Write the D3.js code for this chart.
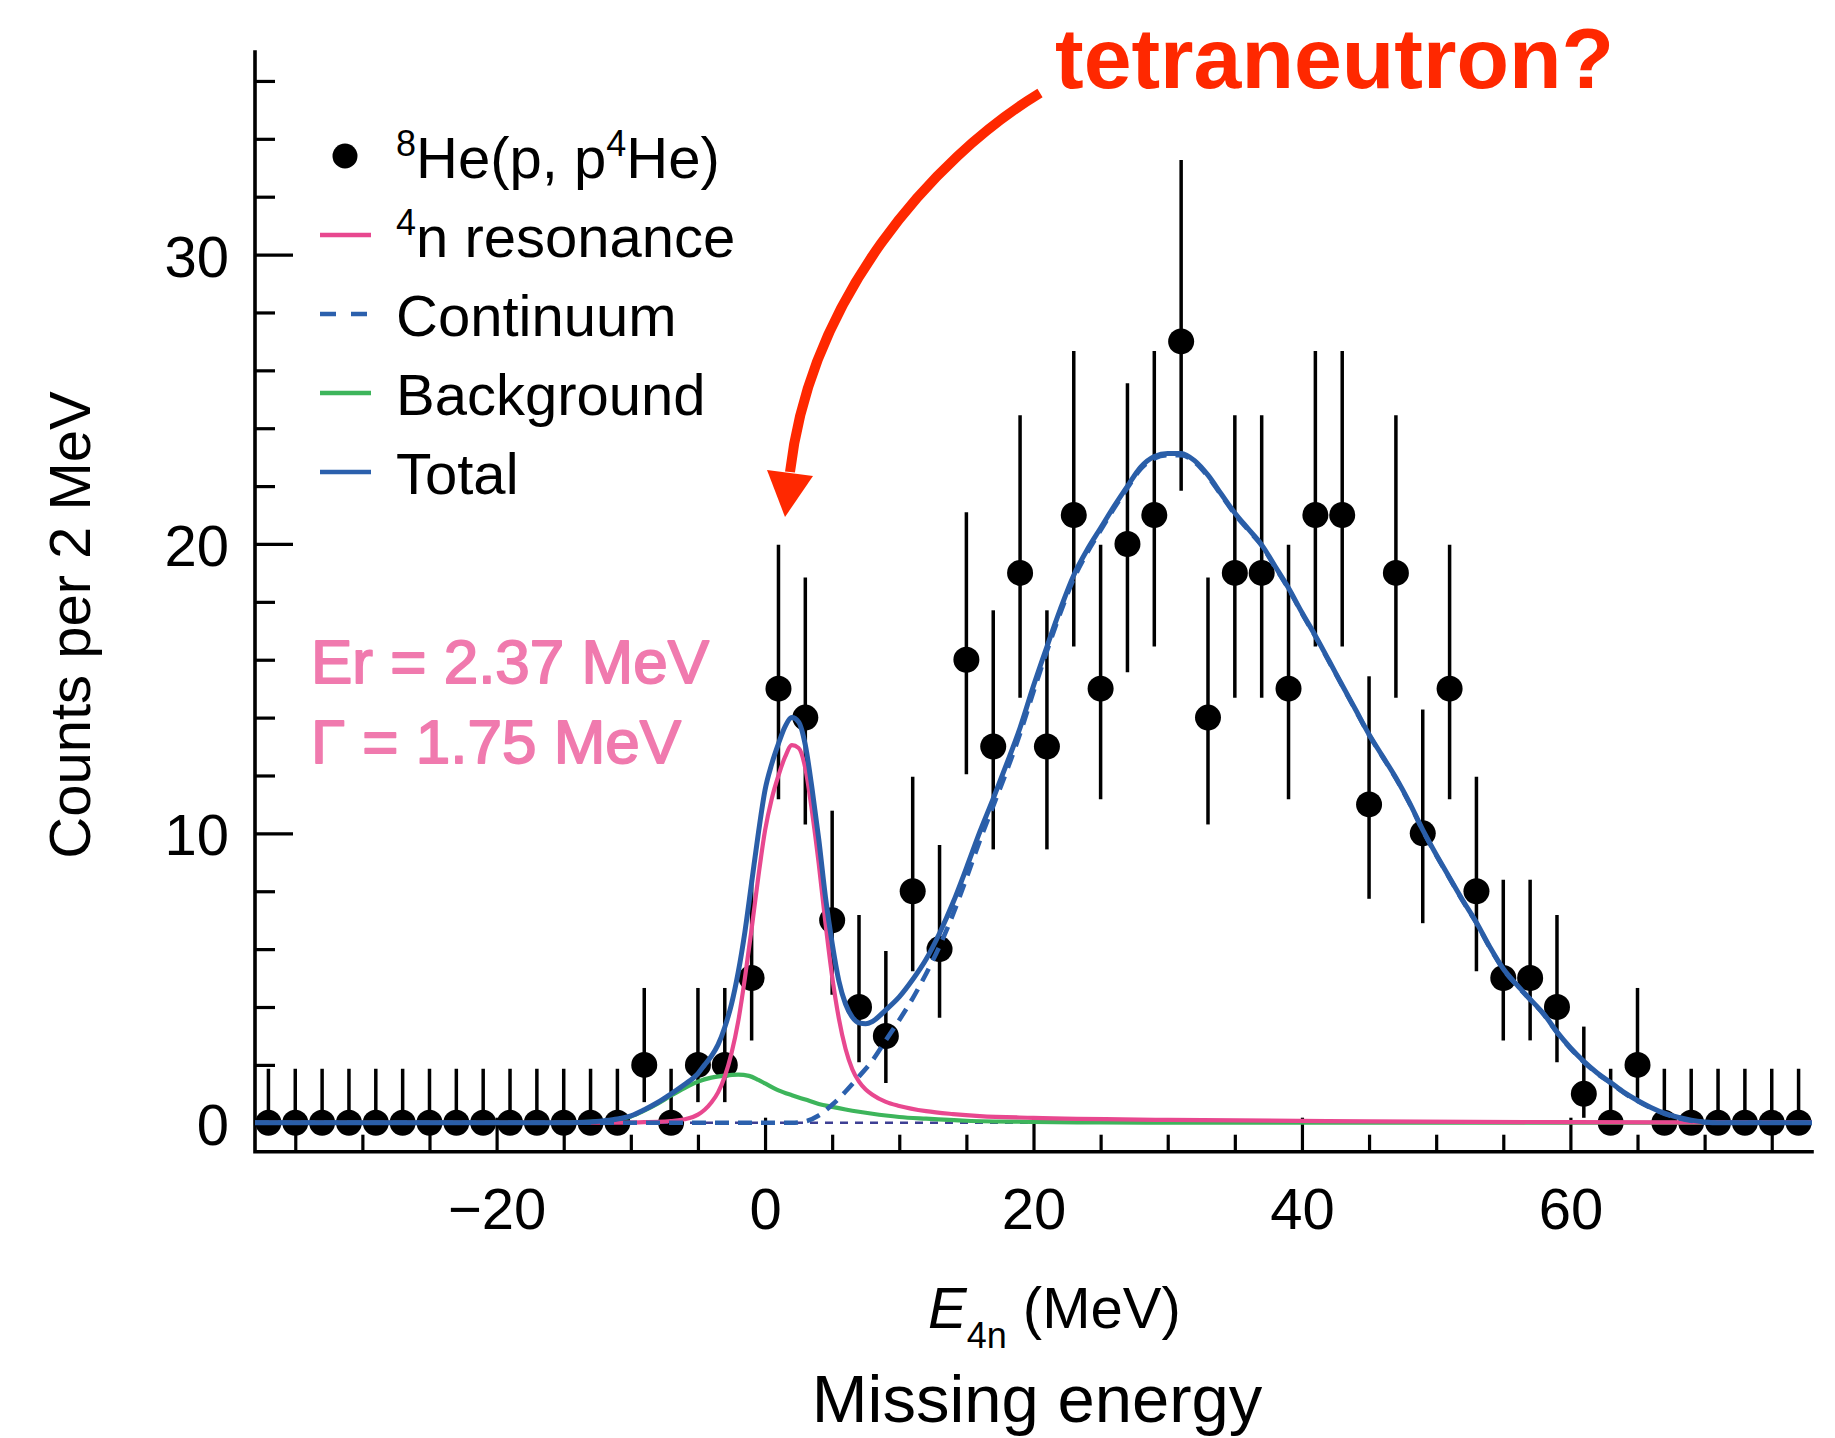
<!DOCTYPE html>
<html><head><meta charset="utf-8">
<script src="https://cdn.jsdelivr.net/npm/d3@7"></script>
<style>
body{margin:0;background:#fff;}
svg{display:block;font-family:"Liberation Sans",Arial,Helvetica,sans-serif;}
</style>
</head><body>
<svg id="chart" width="1835" height="1438"></svg>
<script>
// ---- data ----
const binCenters = [-37,-35,-33,-31,-29,-27,-25,-23,-21,-19,-17,-15,-13,-11,-9,-7,-5,-3,-1,1,3,5,7,9,11,13,15,17,19,21,23,25,27,29,31,33,35,37,39,41,43,45,47,49,51,53,55,57,59,61,63,65,67,69,71,73,75,77];
const counts     = [0,0,0,0,0,0,0,0,0,0,0,0,0,0,2,0,2,2,5,15,14,7,4,3,8,6,16,13,19,13,21,15,20,21,27,14,19,19,15,21,21,11,19,10,15,8,5,5,4,1,0,2,0,0,0,0,0,0];
const errHigh    = [1.866,1.866,1.866,1.866,1.866,1.866,1.866,1.866,1.866,1.866,1.866,1.866,1.866,1.866,4.658,1.866,4.658,4.658,8.398,19.969,18.841,10.784,7.179,5.936,11.958,9.598,21.093,17.708,24.444,17.708,26.664,19.969,25.555,26.664,33.268,18.841,24.444,24.444,19.969,26.664,26.664,15.428,24.444,14.279,19.969,11.958,8.398,8.398,7.179,3.323,1.866,4.658,1.866,1.866,1.866,1.866,1.866,1.866];
const errLow     = [0,0,0,0,0,0,0,0,0,0,0,0,0,0,0.712,0,0.712,0.712,2.846,11.175,10.308,4.424,2.091,1.373,5.236,3.625,12.046,9.446,14.683,9.446,16.458,11.175,15.569,16.458,21.839,10.308,14.683,14.683,11.175,16.458,16.458,7.739,14.683,6.896,11.175,5.236,2.846,2.846,2.091,0.172,0,0.712,0,0,0,0,0,0];

const resonanceCurve = [[-38,0],[-12,0],[-9,0.02],[-8,0.03],[-7,0.06],[-6,0.12],[-5,0.28],[-4.5,0.45],[-4,0.7],[-3.5,1.05],[-3,1.6],[-2.5,2.4],[-2,3.5],[-1.5,5.0],[-1,6.7],[-0.5,8.5],[0,10.1],[0.5,11.2],[1,12.0],[1.5,12.65],[2,13.05],[2.5,12.95],[3,12.25],[3.5,10.75],[4,8.95],[4.5,6.9],[5,5.05],[5.5,3.6],[6,2.55],[6.5,1.85],[7,1.42],[7.5,1.15],[8,0.97],[9,0.72],[10,0.58],[12,0.4],[14,0.3],[16,0.23],[20,0.17],[30,0.1],[45,0.05],[60,0.02],[78,0.01]];
const backgroundCurve = [[-38,0],[-16,0],[-13,0.03],[-12,0.06],[-11,0.12],[-10,0.22],[-9,0.42],[-8,0.66],[-7,0.94],[-6,1.2],[-5,1.42],[-4,1.56],[-3,1.63],[-2,1.66],[-1.2,1.62],[-0.5,1.48],[0,1.36],[1,1.12],[2,0.95],[3,0.8],[4,0.65],[5,0.55],[6,0.46],[7,0.38],[8,0.31],[9,0.25],[10,0.2],[12,0.14],[15,0.07],[20,0.03],[25,0.01],[30,0],[78,0]];
const continuumCurve = [[-38,0],[2,0],[3,0.05],[4,0.25],[5,0.62],[6,1.08],[7,1.6],[8,2.15],[9,2.85],[10,3.55],[11,4.3],[12,5.15],[13,6.1],[14,7.2],[15,8.45],[16,9.75],[17,10.95],[18,12.15],[19,13.45],[20,14.9],[21,16.3],[22,17.62],[23,18.8],[24,19.7],[25,20.47],[26,21.23],[27,21.94],[28,22.6],[29,22.96],[30,23.07],[31,23.07],[32,22.83],[33,22.33],[34,21.68],[35,21.03],[36,20.48],[37,19.94],[38,19.2],[39,18.45],[40,17.6],[41,16.8],[42,15.95],[43,15.1],[44,14.25],[45,13.4],[46,12.65],[47,11.9],[48,11.05],[49,10.1],[50,9.25],[51,8.45],[52,7.65],[53,6.9],[54,6.05],[55,5.3],[56,4.75],[57,4.25],[58,3.75],[59,3.12],[60,2.57],[61,2.1],[62,1.7],[63,1.37],[64,1.03],[65,0.75],[66,0.51],[67,0.31],[68,0.17],[69,0.07],[70,0.01],[71,0],[78,0]];
const totalCurve = [[-38,0],[-16,0],[-13,0.03],[-12,0.07],[-11,0.13],[-10,0.24],[-9,0.45],[-8,0.7],[-7,1.0],[-6,1.32],[-5,1.7],[-4.5,2.0],[-4,2.3],[-3.5,2.7],[-3,3.3],[-2.5,4.1],[-2,5.2],[-1.5,6.6],[-1,8.3],[-0.5,10.0],[0,11.5],[0.5,12.4],[1,13.1],[1.5,13.7],[2,14.0],[2.5,13.85],[3,13.05],[3.5,11.55],[4,9.8],[4.5,7.8],[5,6.2],[5.5,4.9],[6,4.1],[6.5,3.65],[7,3.45],[7.5,3.42],[8,3.5],[9,3.9],[10,4.35],[11,4.95],[12,5.65],[13,6.55],[14,7.6],[15,8.8],[16,10.05],[17,11.2],[18,12.4],[19,13.65],[20,15.1],[21,16.45],[22,17.75],[23,18.92],[24,19.8],[25,20.55],[26,21.3],[27,22.0],[28,22.66],[29,23.02],[30,23.13],[31,23.13],[32,22.88],[33,22.38],[34,21.72],[35,21.07],[36,20.52],[37,19.97],[38,19.23],[39,18.48],[40,17.63],[41,16.83],[42,15.98],[43,15.12],[44,14.27],[45,13.42],[46,12.67],[47,11.92],[48,11.07],[49,10.12],[50,9.27],[51,8.47],[52,7.67],[53,6.92],[54,6.07],[55,5.32],[56,4.77],[57,4.27],[58,3.77],[59,3.14],[60,2.59],[61,2.12],[62,1.72],[63,1.39],[64,1.05],[65,0.77],[66,0.53],[67,0.33],[68,0.19],[69,0.09],[70,0.03],[71,0],[78,0]];

const xMajorTicks = [-20,0,20,40,60];
const xMinorTicks = [-35,-30,-25,-15,-10,-5,5,10,15,25,30,35,45,50,55,65,70,75];
const yMajorTicks = [0,10,20,30];
const yMinorTicks = [2,4,6,8,12,14,16,18,22,24,26,28,32,34,36];
const xDomain = [-38,78];
const yDomain = [-1,37];

const legendItems = ["data","Resonance","Continuum","Background","Total"];

// ---- drawing ----
const svg = d3.select("#chart");
const x = d3.scaleLinear().domain(xDomain).range([255,1812]);
const y = d3.scaleLinear().domain(yDomain).range([1151.7,52]);

const C = {total:"#2a5ea8", pink:"#e8488f", green:"#3db55b", dash:"#2b60ad", navy:"#3d3f94", red:"#ff2800", label:"#f07aae"};

const fmt = d => d < 0 ? "\u2212" + Math.abs(d) : String(d);

// axes
const gx = svg.append("g").attr("transform", `translate(0,${y(yDomain[0])})`);
gx.call(d3.axisBottom(x).tickValues(xMajorTicks).tickSize(-34).tickPadding(36).tickFormat(fmt));
const gx2 = svg.append("g").attr("transform", `translate(0,${y(yDomain[0])})`);
gx2.call(d3.axisBottom(x).tickValues(xMinorTicks).tickSize(-17).tickFormat(""));
const gy = svg.append("g").attr("transform", `translate(${x(xDomain[0])},0)`);
gy.call(d3.axisLeft(y).tickValues(yMajorTicks).tickSize(-38).tickPadding(26).tickFormat(fmt));
const gy2 = svg.append("g").attr("transform", `translate(${x(xDomain[0])},0)`);
gy2.call(d3.axisLeft(y).tickValues(yMinorTicks).tickSize(-20).tickFormat(""));
[gx,gx2,gy,gy2].forEach(g=>{
  g.select(".domain").remove();
  g.selectAll(".tick line").attr("stroke","#000").attr("stroke-width",3.2);
  g.selectAll(".tick text").attr("fill","#000").attr("font-size",58).attr("font-family",'"Liberation Sans",Arial,sans-serif');
});
gy.selectAll(".tick text").attr("dy","0.37em");
svg.append("path")
  .attr("d", `M${x(xDomain[0])},${y(yDomain[1])}V${y(yDomain[0])}H${x(xDomain[1])}`)
  .attr("fill","none").attr("stroke","#000").attr("stroke-width",3.6).attr("stroke-linecap","square");

// data points with error bars
const pts = binCenters.map((e,i)=>({e, c:counts[i], hi:errHigh[i], lo:errLow[i]}));
svg.append("g").selectAll("line").data(pts).join("line")
  .attr("x1",d=>x(d.e)).attr("x2",d=>x(d.e))
  .attr("y1",d=>y(d.lo)).attr("y2",d=>y(d.hi))
  .attr("stroke","#000").attr("stroke-width",3.5);
svg.append("g").selectAll("circle").data(pts).join("circle")
  .attr("cx",d=>x(d.e)).attr("cy",d=>y(d.c)).attr("r",13).attr("fill","#000");

// curves
const line = d3.line().x(d=>x(d[0])).y(d=>y(d[1])).curve(d3.curveMonotoneX);
svg.append("line").attr("x1",x(xDomain[0])).attr("x2",x(xDomain[1])).attr("y1",y(0)).attr("y2",y(0))
  .attr("stroke",C.navy).attr("stroke-width",2.6).attr("stroke-dasharray","8,7");
svg.append("path").attr("d",line(backgroundCurve)).attr("fill","none").attr("stroke",C.green).attr("stroke-width",4.2);
svg.append("path").attr("d",line(resonanceCurve)).attr("fill","none").attr("stroke",C.pink).attr("stroke-width",4.2);
svg.append("path").attr("d",line(continuumCurve)).attr("fill","none").attr("stroke",C.dash).attr("stroke-width",4.6).attr("stroke-dasharray","14,9");
svg.append("path").attr("d",line(totalCurve)).attr("fill","none").attr("stroke",C.total).attr("stroke-width",5);

// legend
const lg = svg.append("g").attr("font-size",58).attr("fill","#000");
const baselines = [178,257,336,415,494];
legendItems.forEach((k,i)=>{
  const b = baselines[i], m = b - 22;
  if (k==="data") lg.append("circle").attr("cx",345).attr("cy",m).attr("r",12.5).attr("fill","#000");
  else {
    const col = k==="Resonance"?C.pink : k==="Background"?C.green : C.dash;
    lg.append("line").attr("x1",320).attr("x2",371).attr("y1",m).attr("y2",m)
      .attr("stroke",col).attr("stroke-width",4.4)
      .attr("stroke-dasharray", k==="Continuum" ? "16,15" : null);
  }
  const t = lg.append("text").attr("x",396).attr("y",b);
  if (k==="data") {
    t.append("tspan").attr("font-size",36).attr("dy",-22).text("8");
    t.append("tspan").attr("dy",22).text("He(p, p");
    t.append("tspan").attr("font-size",36).attr("dy",-22).text("4");
    t.append("tspan").attr("dy",22).text("He)");
  } else if (k==="Resonance") {
    t.append("tspan").attr("font-size",36).attr("dy",-22).text("4");
    t.append("tspan").attr("dy",22).text("n resonance");
  } else t.text(k);
});

// resonance parameters
[["Er = 2.37 MeV",683],["\u0393 = 1.75 MeV",763]].forEach(([s,yy])=>{
  svg.append("text").attr("x",311).attr("y",yy).attr("font-size",62)
    .attr("fill",C.label).attr("stroke",C.label).attr("stroke-width",1.8)
    .attr("stroke-linejoin","round").text(s);
});

// axis titles
svg.append("text").attr("transform","translate(90,625) rotate(-90)").attr("text-anchor","middle").attr("font-size",58).text("Counts per 2 MeV");
const xt = svg.append("text").attr("x",928).attr("y",1328).attr("font-size",58);
xt.append("tspan").attr("font-style","italic").text("E");
xt.append("tspan").attr("font-size",36).attr("dy",20).text("4n");
xt.append("tspan").attr("dy",-20).text(" (MeV)");
svg.append("text").attr("x",1037).attr("y",1422).attr("text-anchor","middle").attr("font-size",67).text("Missing energy");

// annotation
svg.append("text").attr("x",1055).attr("y",88).attr("font-size",86).attr("font-weight","bold").attr("fill",C.red).text("tetraneutron?");
svg.append("path").attr("d","M1040,93 C930,160 810,300 790,472").attr("fill","none").attr("stroke",C.red).attr("stroke-width",10);
svg.append("path").attr("d","M767,470 L813,476 L785,517 Z").attr("fill",C.red);
</script>
</body></html>
